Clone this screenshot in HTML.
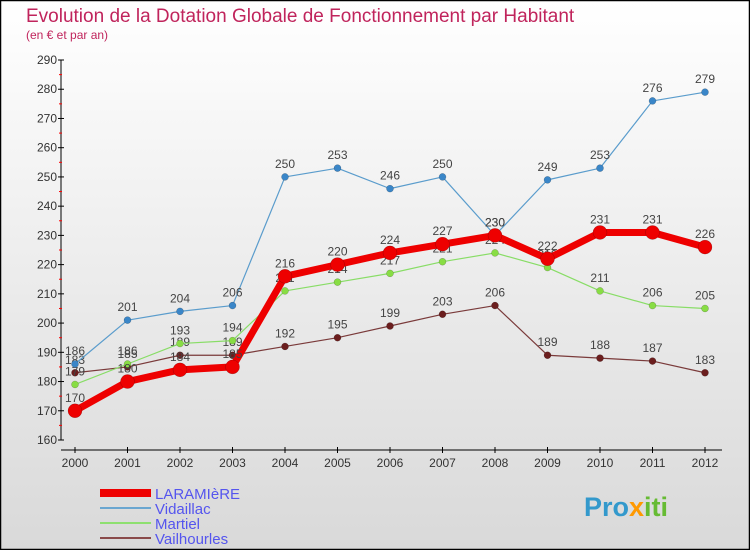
<!DOCTYPE html>
<html><head><meta charset="utf-8"><style>
body{margin:0}
#c{width:750px;height:550px;position:relative;overflow:hidden}
text{font-family:"Liberation Sans",sans-serif}
</style></head><body>
<div id="c">
<svg id="s" width="750" height="550" xmlns="http://www.w3.org/2000/svg">
<defs><linearGradient id="bg" x1="0" y1="0" x2="0" y2="1"><stop offset="0" stop-color="#ffffff"/><stop offset="1" stop-color="#d9d9d9"/></linearGradient></defs>
<rect x="0.5" y="0.5" width="749" height="549" fill="url(#bg)" stroke="#000" stroke-width="1.5"/>
<text x="26" y="22" font-size="19" fill="#c0245c">Evolution de la Dotation Globale de Fonctionnement par Habitant</text>
<text x="26" y="39" font-size="12" fill="#c0245c">(en € et par an)</text>
<g id="axes"></g>
<g id="series"></g>
<g id="legend"></g>
<text x="584" y="516" font-size="27" font-weight="bold" fill="#3399cc">Pro<tspan fill="#ff9900">x</tspan><tspan fill="#66bb33">iti</tspan></text>
</svg></div>
<script>
const years=["2000","2001","2002","2003","2004","2005","2006","2007","2008","2009","2010","2011","2012"];
const yTicks=[160,170,180,190,200,210,220,230,240,250,260,270,280,290];
const laramiere=[170,180,184,185,216,220,224,227,230,222,231,231,226];
const vidaillac=[186,201,204,206,250,253,246,250,230,249,253,276,279];
const martiel=[179,186,193,194,211,214,217,221,224,219,211,206,205];
const vailhourles=[183,185,189,189,192,195,199,203,206,189,188,187,183];
const NS="http://www.w3.org/2000/svg";
const X=i=>75+i*52.5;
const Y=v=>440-(v-160)*2.923;
function mk(t,a,p){const e=document.createElementNS(NS,t);for(const k in a)e.setAttribute(k,a[k]);p.appendChild(e);return e;}
const ax=document.getElementById('axes');
let e=mk('line',{x1:61,y1:Y(290),x2:61,y2:Y(160),stroke:'#000'},ax);

e=mk('line',{x1:61,y1:450,x2:722,y2:450,stroke:'#000'},ax);

yTicks.forEach((t,i)=>{
  mk('line',{x1:58,y1:Y(t),x2:64,y2:Y(t),stroke:'#000'},ax);
  if(i<yTicks.length-1)mk('line',{x1:59,y1:Y(t+5),x2:62,y2:Y(t+5),stroke:'#f00'},ax);
  const tx=mk('text',{x:57,y:Y(t)+4,'font-size':12,'text-anchor':'end',fill:'#333'},ax);
  tx.textContent=t;
  
});
years.forEach((y,i)=>{
  mk('line',{x1:X(i),y1:447,x2:X(i),y2:453,stroke:'#000'},ax);
  const tx=mk('text',{x:X(i),y:467,'font-size':12,'text-anchor':'middle',fill:'#333'},ax);
  tx.textContent=y;
  
});
const sg=document.getElementById('series');
function series(name,vals,color,w,r,dot,labels){
  const g=mk('g',{},sg);
  
  const l=mk('polyline',{points:vals.map((v,i)=>X(i)+','+Y(v)).join(' '),fill:'none',stroke:color,'stroke-width':w,'stroke-linejoin':'round'},g);
  
  vals.forEach((v,i)=>{
    const c=mk('circle',{cx:X(i),cy:Y(v),r:r,fill:dot,stroke:'rgba(0,0,0,0.3)','stroke-width':0.5},g);
    
    const t=mk('text',{x:X(i),y:Y(v)-9,'font-size':12,'text-anchor':'middle',fill:'#444'},g);
    t.textContent=v;
    
  });
}
series('vailhourles',vailhourles,'#7a3a3a',1.2,3.5,'#6b1e1e');
series('martiel',martiel,'#88dd66',1.2,3.5,'#88dd44');
series('vidaillac',vidaillac,'#5a9ccc',1.2,3.5,'#3a86c8');
series('laramiere',laramiere,'#ee0000',7,7,'#ee0000');
const lg=document.getElementById('legend');
[['LARAMIèRE','#ee0000',8],['Vidaillac','#6aa6d0',2],['Martiel','#8ee070',2],['Vailhourles','#8a4a4a',2]].forEach((d,i)=>{
  const y=493+i*15;
  const g=mk('g',{},lg);
  
  mk('line',{x1:100,y1:y,x2:151,y2:y,stroke:d[1],'stroke-width':d[2]},g);
  const t=mk('text',{x:155,y:y+6,'font-size':15,fill:'#5555ee'},g);t.textContent=d[0];
});
</script>
</body></html>
